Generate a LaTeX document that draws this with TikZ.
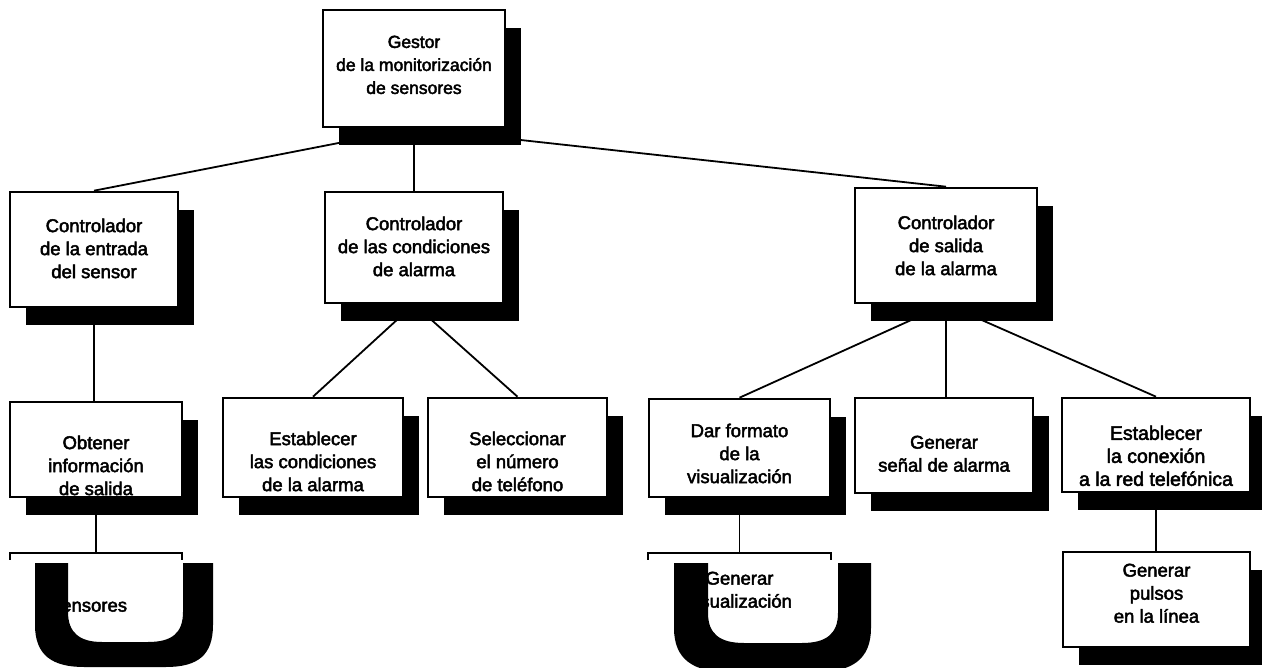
\documentclass[tikz,border=0pt]{standalone}
\usepackage{fontspec}
\setmainfont{Liberation Sans}[FakeBold=2.5]
\usetikzlibrary{shadows}
\begin{document}
\begin{tikzpicture}[x=1pt,y=-1pt,
  box/.style={draw=black, line width=2.6pt, fill=white, rectangle, inner sep=0pt,
    general shadow={fill=black, shadow xshift=16pt, shadow yshift=-18pt}},
  txt/.style={anchor=north, inner sep=0pt, align=center,
    font=\fontsize{18.5}{23}\selectfont},
  link/.style={line width=1.8pt},
  cover/.style={fill=white},
  glyph/.style={fill=black}]

\useasboundingbox (0,0) rectangle (1262,668);
\fill[white] (0,0) rectangle (1262,668);

% module boxes
\node[box, minimum width=182pt, minimum height=117pt] (gestor) at (414,68.5) {};
\node[box, minimum width=168pt, minimum height=115pt] (entrada) at (94,249.5) {};
\node[box, minimum width=178pt, minimum height=111pt] (condic) at (414,247.5) {};
\node[box, minimum width=182pt, minimum height=115pt] (salida) at (946,245.5) {};
\node[box, minimum width=172pt, minimum height=95pt] (obtener) at (96,449.5) {};
\node[box, minimum width=180pt, minimum height=99pt] (establ) at (313,447.5) {};
\node[box, minimum width=179pt, minimum height=99pt] (selec) at (517.5,447.5) {};
\node[box, minimum width=181pt, minimum height=98pt] (formato) at (739.5,448) {};
\node[box, minimum width=178pt, minimum height=95pt] (senal) at (944,445.5) {};
\node[box, minimum width=188pt, minimum height=94pt] (conex) at (1156,445) {};
\node[box, minimum width=187pt, minimum height=95pt] (pulsos) at (1156.5,599.5) {};
\node[box, minimum width=172pt, minimum height=95pt] (sensores) at (96,600.5) {};
\node[box, minimum width=183pt, minimum height=95pt] (visual) at (739.5,600.5) {};

% connectors
\draw[link] (gestor.south) -- (entrada.north);
\draw[link] (gestor.south) -- (condic.north);
\draw[link] (gestor.south) -- (salida.north);
\draw[link] (entrada.south) -- (entrada.south |- obtener.north);
\draw[link] (obtener.south) -- (obtener.south |- sensores.north);
\draw[link] (condic.south) -- (establ.north);
\draw[link] (condic.south) -- (selec.north);
\draw[link] (salida.south) -- (formato.north);
\draw[link] (salida.south) -- (salida.south |- senal.north);
\draw[link] (salida.south) -- (conex.north);
\draw[link] (formato.south) -- (formato.south |- visual.north);
\draw[link] (conex.south) -- (conex.south |- pulsos.north);

% white fields behind the two large U glyphs
\fill[cover] (0,560) rectangle (228,668);
\fill[cover] (640,560) rectangle (886,668);

% labels
\node[txt, font=\fontsize{17.5}{23}\selectfont] (gestor-t) at (414,35.5) {Gestor\\de la monitorización\\de sensores};
\node[txt] (entrada-t) at (94,218.5) {Controlador\\de la entrada\\del sensor};
\node[txt] (condic-t) at (414,216.5) {Controlador\\de las condiciones\\de alarma};
\node[txt] (salida-t) at (946,215.5) {Controlador\\de salida\\de la alarma};
\node[txt] (obtener-t) at (96,435.5) {Obtener\\información\\de salida};
\node[txt] (establ-t) at (313,431.5) {Establecer\\las condiciones\\de la alarma};
\node[txt] (selec-t) at (517.5,431.5) {Seleccionar\\el número\\de teléfono};
\node[txt] (formato-t) at (739.5,423.5) {Dar formato\\de la\\visualización};
\node[txt] (senal-t) at (944,435.5) {Generar\\señal de alarma};
\node[txt, font=\fontsize{19.5}{23}\selectfont] (conex-t) at (1156,425.5) {Establecer\\la conexión\\a la red telefónica};
\node[txt] (pulsos-t) at (1156.5,563.5) {Generar\\pulsos\\en la línea};
\node[txt] (sensores-t) at (88,598.5) {Sensores};
\node[txt] (visual-t) at (739.5,571.5) {Generar\\visualización};

% the two large U glyphs
\fill[glyph] (35,563) -- (35,625) .. controls (35,655) and (52,667) .. (84,667)
  -- (166,667) .. controls (198,667) and (213,655) .. (213,625) -- (213,563)
  -- (183,563) -- (183,612) .. controls (183,633) and (172,642) .. (148,642)
  -- (102,642) .. controls (80,642) and (68,633) .. (68,612) -- (68,563) -- cycle;
\fill[glyph] (674,563) -- (674,628) .. controls (674,660) and (694,672) .. (728,672)
  -- (817,672) .. controls (851,672) and (871,660) .. (871,628) -- (871,563)
  -- (838,563) -- (838,613) .. controls (838,634) and (826,643) .. (802,643)
  -- (744,643) .. controls (720,643) and (708,634) .. (708,613) -- (708,563) -- cycle;
\end{tikzpicture}
\end{document}
